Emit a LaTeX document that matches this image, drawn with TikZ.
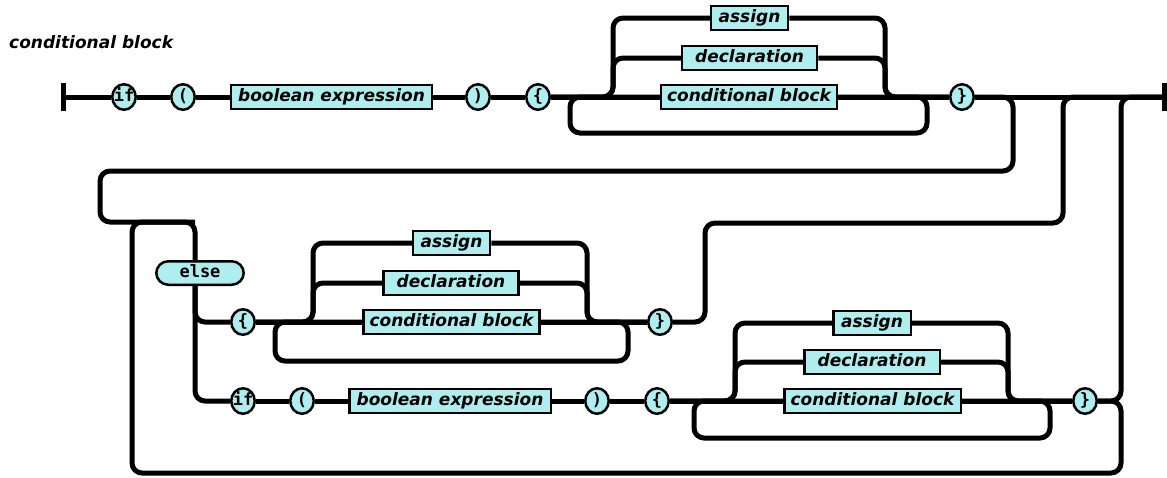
\documentclass[tikz,border=0pt]{standalone}
\usepackage{fontspec}
\usetikzlibrary{shapes.geometric}
\newfontfamily\ntfont{DejaVu Sans}[BoldItalicFont={DejaVu Sans Bold Oblique}]
\newfontfamily\tmfont{DejaVu Sans Mono}[BoldFont={DejaVu Sans Mono Bold}]
\definecolor{railfill}{HTML}{AFEEEE}
\pgfdeclarelayer{bg}
\pgfsetlayers{bg,main}
\begin{document}
\begin{tikzpicture}[x=1pt,y=-1pt,
  ntfnt/.style={font=\ntfont\bfseries\itshape\fontsize{17}{20}\selectfont},
  nterm/.style={ntfnt,draw,line width=2.5pt,fill=railfill,rectangle,
    minimum height=24pt,inner sep=0pt,text height=12.5pt,text depth=4pt},
  term/.style={draw,line width=2.5pt,fill=railfill,ellipse,
    minimum width=23.5pt,minimum height=25.5pt,inner xsep=-3pt,inner ysep=0pt,
    text height=12pt,text depth=3.5pt,
    font=\tmfont\bfseries\fontsize{17}{20}\selectfont},
  kw/.style={draw,line width=2.5pt,fill=railfill,rectangle,rounded corners=12pt,
    minimum width=87.5pt,minimum height=23.5pt,inner sep=0pt,
    text height=12pt,text depth=3.5pt,
    font=\tmfont\bfseries\fontsize{17}{20}\selectfont},
  rail/.style={line width=5pt,rounded corners=10pt},
  bar/.style={line width=5pt}]
\useasboundingbox (0,0) rectangle (1167,477);

% title
\node[ntfnt,anchor=base west,inner sep=0pt] (title) at (9,48) {conditional block};

% first row
\coordinate (start) at (63,97);
\coordinate (fin) at (1164,97);
\node[term] (if1) at (124,97) {if};
\node[term] (lp1) at (183,97) {(};
\node[nterm,minimum width=201pt] (be1) at (331.5,97) {boolean expression};
\node[term] (rp1) at (478,97) {)};
\node[term] (lb1) at (538,97) {\{};
\node[nterm,minimum width=77pt] (as1) at (749.5,18) {assign};
\node[nterm,minimum width=135pt] (de1) at (749.5,58) {declaration};
\node[nterm,minimum width=176pt] (cb1) at (749,97) {conditional block};
\node[term] (rb1) at (962,97) {\}};
\coordinate (c1l) at (613,97);
\coordinate (c1r) at (885,97);
\coordinate (k1a) at (570,97);
\coordinate (k1b) at (927,133);

% else branch
\node[kw] (el) at (200,273) {else};
\coordinate (w1) at (1013,171);
\coordinate (w2) at (100,222);
\coordinate (ev) at (195,222);
\coordinate (bl) at (132,473);
\coordinate (br) at (1121,473);
\coordinate (x3) at (1121,97);

% second row: else { ... }
\node[term] (lb2) at (243,322) {\{};
\node[nterm,minimum width=77pt] (as2) at (451.5,243) {assign};
\node[nterm,minimum width=135pt] (de2) at (451,283) {declaration};
\node[nterm,minimum width=176pt] (cb2) at (451.5,322) {conditional block};
\node[term] (rb2) at (660,322) {\}};
\coordinate (c2l) at (313,322);
\coordinate (c2r) at (587,322);
\coordinate (k2a) at (275,322);
\coordinate (k2b) at (628,361);
\coordinate (u1) at (705,223);
\coordinate (u2) at (1063,97);

% third row: else if ( ... ) { ... }
\node[term] (if2) at (243,401) {if};
\node[term] (lp2) at (302,401) {(};
\node[nterm,minimum width=201.5pt] (be2) at (450,401) {boolean expression};
\node[term] (rp2) at (597,401) {)};
\node[term] (lb3) at (657,401) {\{};
\node[nterm,minimum width=77.5pt] (as3) at (872,323) {assign};
\node[nterm,minimum width=135.5pt] (de3) at (872,362) {declaration};
\node[nterm,minimum width=176.5pt] (cb3) at (872.5,401) {conditional block};
\node[term] (rb3) at (1085,401) {\}};
\coordinate (c3l) at (735,401);
\coordinate (c3r) at (1008,401);
\coordinate (k3a) at (694,401);
\coordinate (k3b) at (1050,438);

\begin{pgfonlayer}{bg}
  % end bars
  \draw[bar] ([yshift=-14pt]start) -- ([yshift=14pt]start);
  \draw[bar] ([yshift=-14pt]fin) -- ([yshift=14pt]fin);
  % first row
  \draw[rail] (start) -- (if1) -- (lp1) -- (be1) -- (rp1) -- (lb1) -- (cb1) -- (rb1) -- (fin);
  \draw[rail] (lb1.east) -| (c1l |- as1) -- (as1.west);
  \draw[rail] (lb1.east) -| (c1l |- de1) -- (de1.west);
  \draw[rail] (as1.east) -| (c1r) -- (rb1.west);
  \draw[rail] (de1.east) -| (c1r) -- (rb1.west);
  \draw[rail] (k1a) rectangle (k1b);
  % wrap to the else part
  \draw[rail] (rb1.east) -| (w1) -| (w2) -- (ev) -- (ev |- el.north);
  \draw[rail] (ev |- el.south) |- (lb2.west);
  \draw[rail] (ev |- el.south) |- (if2.west);
  % no else
  \draw[rail] (ev) -| (bl) -- (br) |- (rb3.east);
  % second row
  \draw[rail] (lb2) -- (cb2) -- (rb2);
  \draw[rail] (lb2.east) -| (c2l |- as2) -- (as2.west);
  \draw[rail] (lb2.east) -| (c2l |- de2) -- (de2.west);
  \draw[rail] (as2.east) -| (c2r) -- (rb2.west);
  \draw[rail] (de2.east) -| (c2r) -- (rb2.west);
  \draw[rail] (k2a) rectangle (k2b);
  \draw[rail] (rb2.east) -| (u1) -| (u2) -- (fin);
  % third row
  \draw[rail] (if2) -- (lp2) -- (be2) -- (rp2) -- (lb3) -- (cb3) -- (rb3);
  \draw[rail] (lb3.east) -| (c3l |- as3) -- (as3.west);
  \draw[rail] (lb3.east) -| (c3l |- de3) -- (de3.west);
  \draw[rail] (as3.east) -| (c3r) -- (rb3.west);
  \draw[rail] (de3.east) -| (c3r) -- (rb3.west);
  \draw[rail] (k3a) rectangle (k3b);
  \draw[rail] (rb3.east) -| (x3) -- (fin);
\end{pgfonlayer}
\end{tikzpicture}
\end{document}
